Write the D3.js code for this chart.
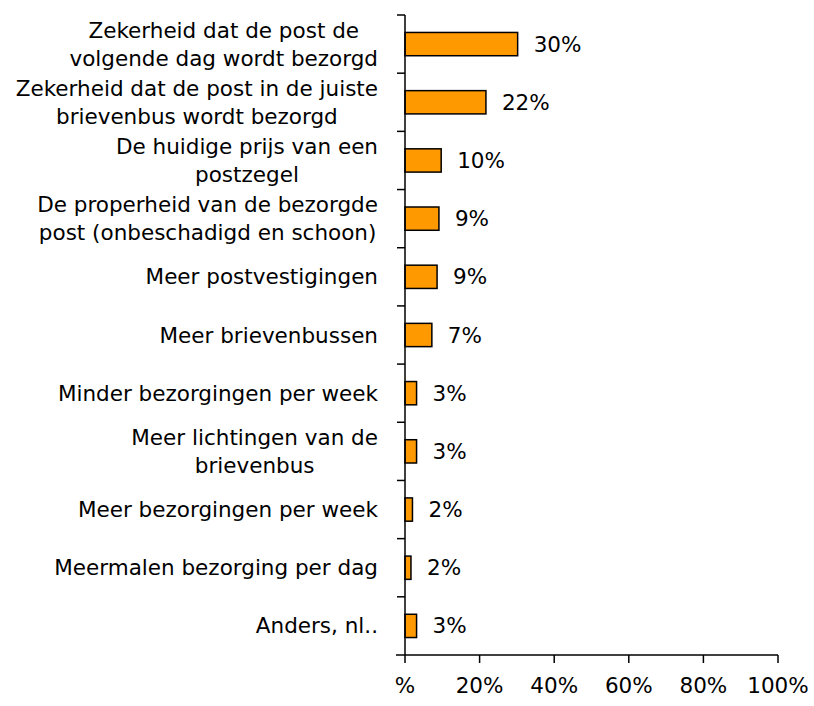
<!DOCTYPE html>
<html>
<head>
<meta charset="utf-8">
<script src="https://cdn.jsdelivr.net/npm/d3@7"></script>
<style>
  body { margin: 0; background: #fff; }
  text { font-family: "DejaVu Sans", Verdana, sans-serif; fill: #000; }
</style>
</head>
<body>
<div id="chart"></div>
<script>
// categories (line breaks as in the original)
var categories = [
  "Zekerheid dat de post de\nvolgende dag wordt bezorgd",
  "Zekerheid dat de post in de juiste\nbrievenbus wordt bezorgd",
  "De huidige prijs van een\npostzegel",
  "De properheid van de bezorgde\npost (onbeschadigd en schoon)",
  "Meer postvestigingen",
  "Meer brievenbussen",
  "Minder bezorgingen per week",
  "Meer lichtingen van de\nbrievenbus",
  "Meer bezorgingen per week",
  "Meermalen bezorging per dag",
  "Anders, nl.."
];

// share of respondents (%)
var values = [30.2, 21.7, 9.7, 9.1, 8.6, 7.2, 3.1, 3.1, 2.0, 1.6, 3.1];

var xTicks = [0, 20, 40, 60, 80, 100];
var xTickLabels = ["%", "20%", "40%", "60%", "80%", "100%"];

// set the dimensions and margins of the graph
var margin = {top: 15, right: 36, bottom: 51, left: 405},
    width = 814 - margin.left - margin.right,
    height = 706 - margin.top - margin.bottom;

var fontSize = "21.5px";

var x = d3.scaleLinear().domain([0, 100]).range([0, width]);
var y = d3.scaleBand().domain(d3.range(categories.length)).range([0, height]).paddingInner(0.6).paddingOuter(0.3);
var yBand = d3.scaleBand().domain(d3.range(categories.length)).range([0, height]);

var svg = d3.select("#chart").append("svg")
    .attr("width", 814)
    .attr("height", 706)
  .append("g")
    .attr("transform", "translate(" + margin.left + "," + margin.top + ")");

// bars
svg.selectAll(".bar")
    .data(values)
  .enter().append("rect")
    .attr("class", "bar")
    .attr("x", x(0))
    .attr("y", function(d, i) { return y(i); })
    .attr("width", function(d) { return x(d) - x(0); })
    .attr("height", y.bandwidth())
    .style("fill", "#FF9900")
    .style("stroke", "#000")
    .style("stroke-width", 1.5);

// value labels
svg.selectAll(".val")
    .data(values)
  .enter().append("text")
    .attr("x", function(d) { return x(d) + 16; })
    .attr("y", function(d, i) { return y(i) + y.bandwidth() / 2; })
    .attr("dy", "0.35em")
    .style("font-size", fontSize)
    .text(function(d) { return Math.round(d) + "%"; });

// y axis line and category ticks
svg.append("line")
    .attr("x1", 0).attr("x2", 0)
    .attr("y1", 0).attr("y2", height)
    .style("stroke", "#000").style("stroke-width", 1.5);

svg.selectAll(".ytick")
    .data(d3.range(categories.length))
  .enter().append("line")
    .attr("x1", -8).attr("x2", 0)
    .attr("y1", function(i) { return yBand(i); })
    .attr("y2", function(i) { return yBand(i); })
    .style("stroke", "#000").style("stroke-width", 1.5);

// category labels: block right-aligned, lines centred within the block
svg.selectAll(".cat")
    .data(categories)
  .enter().append("text")
    .attr("class", "cat")
    .attr("text-anchor", "middle")
    .style("font-size", fontSize)
    .each(function(d, i) {
      var lines = d.split("\n");
      var cy = yBand(i) + yBand.bandwidth() / 2;
      var t = d3.select(this);
      lines.forEach(function(line, k) {
        t.append("tspan")
          .attr("x", 0)
          .attr("y", cy + (k - (lines.length - 1) / 2) * 28)
          .attr("dy", "0.35em")
          .text(line);
      });
      var w = d3.max(t.selectAll("tspan").nodes(), function(n) { return n.getComputedTextLength(); });
      t.selectAll("tspan").attr("x", -27 - w / 2);
    });

// x axis
var xAxis = svg.append("g")
    .attr("transform", "translate(0," + height + ")");

xAxis.append("line")
    .attr("x1", -9).attr("x2", width)
    .style("stroke", "#000").style("stroke-width", 1.5);

xAxis.selectAll(".xtick")
    .data(xTicks)
  .enter().append("line")
    .attr("x1", function(d) { return x(d); })
    .attr("x2", function(d) { return x(d); })
    .attr("y1", 0).attr("y2", 8)
    .style("stroke", "#000").style("stroke-width", 1.5);

xAxis.selectAll(".xlab")
    .data(xTicks)
  .enter().append("text")
    .attr("x", function(d) { return x(d); })
    .attr("y", 30)
    .attr("dy", "0.35em")
    .attr("text-anchor", "middle")
    .style("font-size", fontSize)
    .text(function(d, i) { return xTickLabels[i]; });
</script>
</body>
</html>
